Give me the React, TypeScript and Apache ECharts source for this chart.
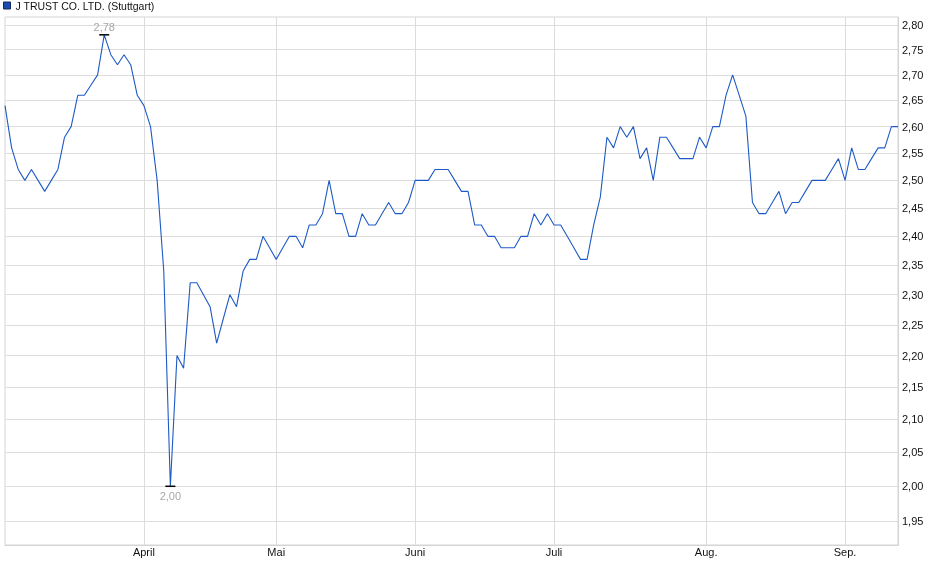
import { useEffect, useRef } from 'react';
import * as echarts from 'echarts';

const SERIES_NAME = 'J TRUST CO. LTD. (Stuttgart)';

// trading days 2025 (Stuttgart), per month
const marchDays = [3, 4, 5, 6, 7, 10, 11, 12, 13, 14, 17, 18, 19, 20, 21, 24, 25, 26, 27, 28, 31];
const aprilDays = [1, 2, 3, 4, 7, 8, 9, 10, 11, 14, 15, 16, 17, 22, 23, 24, 25, 28, 29, 30];
const mayDays = [2, 5, 6, 7, 8, 9, 12, 13, 14, 15, 16, 19, 20, 21, 22, 23, 26, 27, 28, 29, 30];
const juneDays = [2, 3, 4, 5, 6, 9, 10, 11, 12, 13, 16, 17, 18, 19, 20, 23, 24, 25, 26, 27, 30];
const julyDays = [1, 2, 3, 4, 7, 8, 9, 10, 11, 14, 15, 16, 17, 18, 21, 22, 23, 24, 25, 28, 29, 30, 31];
const augustDays = [1, 4, 5, 6, 7, 8, 11, 12, 13, 14, 15, 18, 19, 20, 21, 22, 25, 26, 27, 28, 29];
const septemberDays = [1, 2, 3, 4, 5, 8, 9, 10, 11];

// closing prices in EUR
const marchClose = [2.64, 2.56, 2.52, 2.5, 2.52, 2.5, 2.48, 2.5, 2.52, 2.58, 2.6, 2.66, 2.66, 2.68, 2.7, 2.78, 2.74, 2.72, 2.74, 2.72, 2.66];
const aprilClose = [2.64, 2.6, 2.5, 2.34, 2.0, 2.2, 2.18, 2.32, 2.32, 2.3, 2.28, 2.22, 2.26, 2.3, 2.28, 2.34, 2.36, 2.36, 2.4, 2.38];
const mayClose = [2.36, 2.38, 2.4, 2.4, 2.38, 2.42, 2.42, 2.44, 2.5, 2.44, 2.44, 2.4, 2.4, 2.44, 2.42, 2.42, 2.44, 2.46, 2.44, 2.44, 2.46];
const juneClose = [2.5, 2.5, 2.5, 2.52, 2.52, 2.52, 2.5, 2.48, 2.48, 2.42, 2.42, 2.4, 2.4, 2.38, 2.38, 2.38, 2.4, 2.4, 2.44, 2.42, 2.44];
const julyClose = [2.42, 2.42, 2.4, 2.38, 2.36, 2.36, 2.42, 2.47, 2.58, 2.56, 2.6, 2.58, 2.6, 2.54, 2.56, 2.5, 2.58, 2.58, 2.56, 2.54, 2.54, 2.54, 2.58];
const augustClose = [2.56, 2.6, 2.6, 2.66, 2.7, 2.66, 2.62, 2.46, 2.44, 2.44, 2.46, 2.48, 2.44, 2.46, 2.46, 2.48, 2.5, 2.5, 2.5, 2.52, 2.54];
const septemberClose = [2.5, 2.56, 2.52, 2.52, 2.54, 2.56, 2.56, 2.6, 2.6];

const months = [
  { month: '03', days: marchDays, close: marchClose },
  { month: '04', days: aprilDays, close: aprilClose },
  { month: '05', days: mayDays, close: mayClose },
  { month: '06', days: juneDays, close: juneClose },
  { month: '07', days: julyDays, close: julyClose },
  { month: '08', days: augustDays, close: augustClose },
  { month: '09', days: septemberDays, close: septemberClose },
];

const monthLabels: Record<string, string> = {
  '04': 'April',
  '05': 'Mai',
  '06': 'Juni',
  '07': 'Juli',
  '08': 'Aug.',
  '09': 'Sep.',
};

const yTicks = [1.95, 2.0, 2.05, 2.1, 2.15, 2.2, 2.25, 2.3, 2.35, 2.4, 2.45, 2.5, 2.55, 2.6, 2.65, 2.7, 2.75, 2.8];

const LINE_COLOR = '#1d5ac6';
const GRID_COLOR = '#dcdcdc';

const fmt = (v: number) => v.toFixed(2).replace('.', ',');

export default function App() {
  const chartRef = useRef<HTMLDivElement>(null);

  useEffect(() => {
    if (!chartRef.current) return;
    const chart = echarts.init(chartRef.current, undefined, { renderer: 'svg' });

    const categories: string[] = [];
    const prices: number[] = [];
    const monthStarts = new Set<number>();
    months.forEach(({ month, days, close }) => {
      days.forEach((d, i) => {
        if (i === 0 && monthLabels[month]) monthStarts.add(categories.length);
        categories.push(`2025-${month}-${String(d).padStart(2, '0')}`);
        prices.push(close[i]);
      });
    });

    // price axis is logarithmic: plot ln(price) on a value axis
    const lnTicks = yTicks.map((t) => Math.log(t));
    const pxPerUnit = 496 / (Math.log(2.8) - Math.log(1.95));
    const yMax = Math.log(2.8) + 8 / pxPerUnit;
    const yMin = Math.log(1.95) - 24 / pxPerUnit;

    chart.setOption({
      animation: false,
      textStyle: { fontFamily: '"Liberation Sans", Arial, sans-serif' },
      legend: {
        left: 3,
        top: 0,
        padding: 0,
        icon: 'rect',
        itemWidth: 7,
        itemHeight: 7,
        itemGap: 5,
        textStyle: { fontSize: 10.5, color: '#111' },
        data: [
          {
            name: SERIES_NAME,
            itemStyle: { color: '#1a4cb0', borderColor: '#17285a', borderWidth: 1 },
          },
        ],
      },
      grid: {
        left: 5,
        right: 42,
        top: 17,
        bottom: 34,
        show: true,
        borderColor: '#d4d4d4',
        borderWidth: 1,
      },
      xAxis: {
        type: 'category',
        data: categories,
        boundaryGap: false,
        axisLine: { show: true, lineStyle: { color: '#d4d4d4' } },
        axisTick: { show: false },
        axisLabel: {
          interval: (i: number) => monthStarts.has(i),
          formatter: (v: string) => monthLabels[v.slice(5, 7)] ?? '',
          fontSize: 11,
          color: '#111',
          margin: 1,
        },
        splitLine: {
          show: true,
          interval: (i: number) => monthStarts.has(i),
          lineStyle: { color: GRID_COLOR },
        },
      },
      yAxis: {
        type: 'value',
        position: 'right',
        min: yMin,
        max: yMax,
        axisLine: { show: true, lineStyle: { color: '#d4d4d4' } },
        axisTick: { show: false, customValues: lnTicks },
        axisLabel: {
          customValues: lnTicks,
          formatter: (v: number) => fmt(Math.exp(v)),
          fontSize: 11,
          color: '#111',
          margin: 4,
        },
        splitLine: { show: true, lineStyle: { color: GRID_COLOR } },
      },
      series: [
        {
          type: 'line',
          name: SERIES_NAME,
          data: prices.map((p) => Math.log(p)),
          symbol: 'none',
          lineStyle: { color: LINE_COLOR, width: 1.1 },
          itemStyle: { color: LINE_COLOR },
          markPoint: {
            symbol: 'rect',
            symbolSize: [10, 1.5],
            itemStyle: { color: '#000' },
            label: {
              show: true,
              color: '#a8a8a8',
              fontSize: 11,
              formatter: (p: any) => fmt(Math.exp(p.value)),
            },
            data: [
              { type: 'max', label: { position: 'top', distance: 2 } },
              { type: 'min', label: { position: 'bottom', distance: 3 } },
            ],
          },
        },
      ],
    });

    return () => {
      chart.dispose();
    };
  }, []);

  return (
    <div
      ref={chartRef}
      style={{ position: 'fixed', left: 0, top: 0, width: 940, height: 579 }}
    />
  );
}
